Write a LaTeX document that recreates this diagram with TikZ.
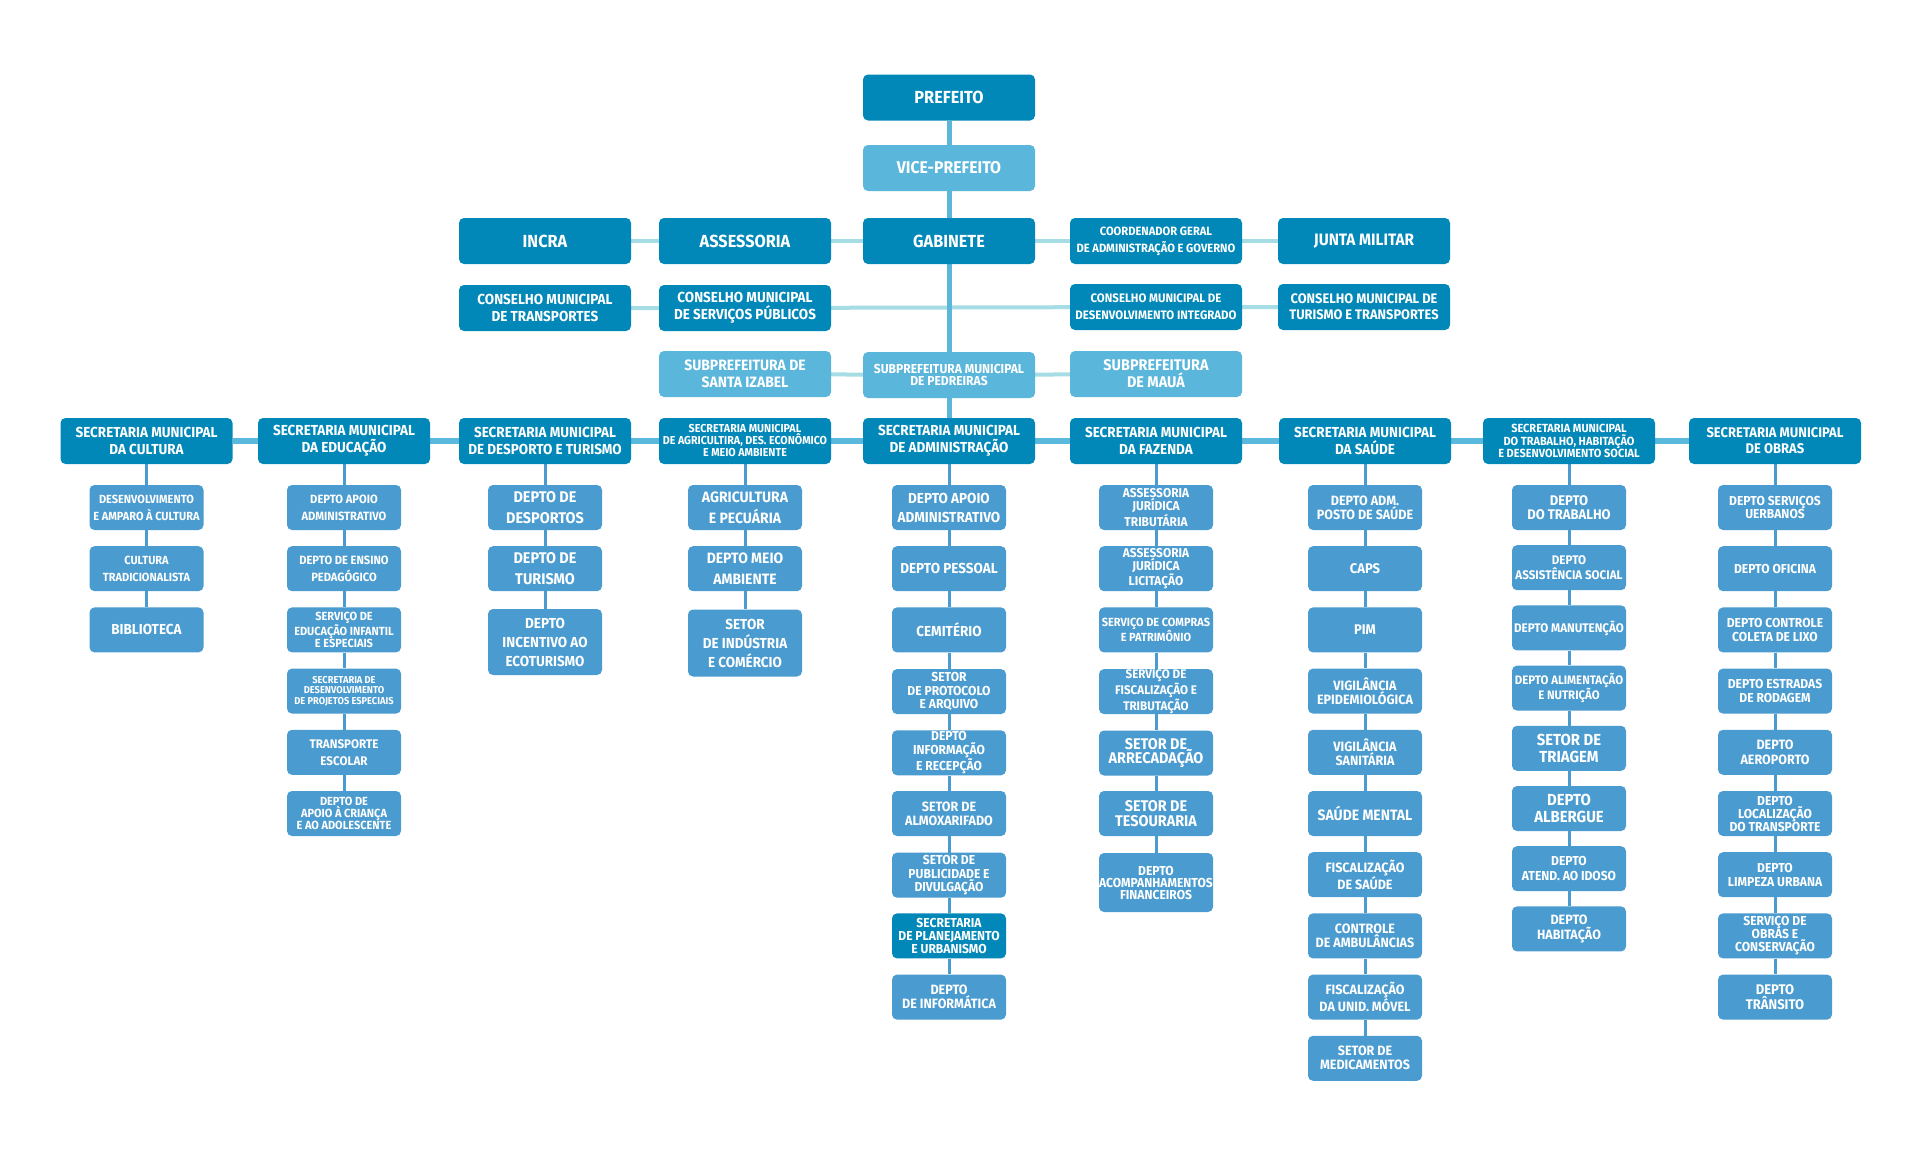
\documentclass[tikz,border=0pt]{standalone}
\usepackage{fontspec}
\setmainfont{Fira Sans}[FakeStretch=0.93]
\usetikzlibrary{backgrounds}
\definecolor{dark}{HTML}{0288B8}
\definecolor{lite}{HTML}{5BB6DB}
\definecolor{mid}{HTML}{4A9BD0}
\definecolor{pale}{HTML}{A6DCE3}
\definecolor{vline}{HTML}{5BB6D8}
\definecolor{secline}{HTML}{5BB9DD}
\begin{document}
\begin{tikzpicture}[x=1pt,y=-1pt,
  fz/.style 2 args={font=\bfseries\fontsize{#1}{#2}\selectfont},
  box/.style={rounded corners=5pt, text=white, align=center, inner sep=0pt, fz={14.5}{17}},
  topbox/.style={box, fill=dark, minimum width=172pt, minimum height=46pt},
  litebox/.style={box, fill=lite, minimum width=172pt, minimum height=46pt},
  secbox/.style={box, fill=dark, minimum width=172pt, minimum height=46pt},
  kid/.style={box, fill=mid, minimum width=114pt, minimum height=45pt},
  kiddark/.style={box, fill=dark, minimum width=114pt, minimum height=45pt},
  paleline/.style={draw=pale, line width=4pt},
  vertline/.style={draw=vline, line width=5pt},
  secrow/.style={draw=secline, line width=5.5pt},
  kidline/.style={draw=mid, line width=3pt}]
\useasboundingbox (0,0) rectangle (1920,1159);

% ---------- top ----------
\node[topbox, fz={17.5}{20}] (pref) at (949,97.5) {PREFEITO};
\node[litebox, fz={17}{20}] (vice) at (949,168) {VICE-PREFEITO};

\node[topbox, fz={17.5}{20}] (incra) at (545,241) {INCRA};
\node[topbox, fz={17.5}{20}] (asse) at (745,241) {ASSESSORIA};
\node[topbox, fz={17.5}{20}] (gab) at (949,241) {GABINETE};
\node[topbox, fz={12}{17}] (coord) at (1156,241) {COORDENADOR GERAL\\DE ADMINISTRAÇÃO E GOVERNO};
\node[topbox, fz={16.5}{20}] (junta) at (1364,241) {JUNTA MILITAR};

\node[topbox, fz={14.5}{17}] (cmt) at (545,308) {CONSELHO MUNICIPAL\\DE TRANSPORTES};
\node[topbox, fz={14.5}{17}] (cmsp) at (745,308) {CONSELHO MUNICIPAL\\DE SERVIÇOS PÚBLICOS};
\node[topbox, fz={12.3}{17}] (cmdi) at (1156,307) {CONSELHO MUNICIPAL DE\\DESENVOLVIMENTO INTEGRADO};
\node[topbox, fz={13.8}{16}] (cmtt) at (1364,307) {CONSELHO MUNICIPAL DE\\TURISMO E TRANSPORTES};

\node[litebox, fz={15}{17}] (izabel) at (745,374) {SUBPREFEITURA DE\\SANTA IZABEL};
\node[litebox, fz={13}{11.5}] (pedr) at (949,375) {SUBPREFEITURA MUNICIPAL\\DE PEDREIRAS};
\node[litebox, fz={15.5}{17}] (maua) at (1156,374) {SUBPREFEITURA\\DE MAUÁ};

% ---------- secretarias ----------
\node[secbox] (cu) at (146.5,441) {SECRETARIA MUNICIPAL\\DA CULTURA};
\node[secbox] (ed) at (344,441) {SECRETARIA MUNICIPAL\\DA EDUCAÇÃO};
\node[secbox] (de) at (545,441) {SECRETARIA MUNICIPAL\\DE DESPORTO E TURISMO};
\node[secbox, fz={11.5}{12}] (ag) at (745,441) {SECRETARIA MUNICIPAL\\DE AGRICULTIRA, DES. ECONÔMICO\\E MEIO AMBIENTE};
\node[secbox] (ad) at (949,441) {SECRETARIA MUNICIPAL\\DE ADMINISTRAÇÃO};
\node[secbox] (fa) at (1156,441) {SECRETARIA MUNICIPAL\\DA FAZENDA};
\node[secbox] (sa) at (1365,441) {SECRETARIA MUNICIPAL\\DA SAÚDE};
\node[secbox, fz={11.8}{12.3}] (tr) at (1569,441) {SECRETARIA MUNICIPAL\\DO TRABALHO, HABITAÇÃO\\E DESENVOLVIMENTO SOCIAL};
\node[secbox, fz={14}{16}] (ob) at (1775,441) {SECRETARIA MUNICIPAL\\DE OBRAS};

% ---------- cultura ----------
\node[kid, fz={11.8}{17}] (cu1) at (146.5,507.5) {DESENVOLVIMENTO\\E AMPARO À CULTURA};
\node[kid, fz={11.8}{17}] (cu2) at (146.5,568.7) {CULTURA\\TRADICIONALISTA};
\node[kid, fz={14.5}{17}] (cu3) at (146.5,629.9) {BIBLIOTECA};

% ---------- educacao ----------
\node[kid, fz={12}{17}] (ed1) at (344,507.5) {DEPTO APOIO\\ADMINISTRATIVO};
\node[kid, fz={12}{17}] (ed2) at (344,568.7) {DEPTO DE ENSINO\\PEDAGÓGICO};
\node[kid, fz={11.8}{12}] (ed3) at (344,629.9) {SERVIÇO DE\\EDUCAÇÃO INFANTIL\\E ESPECIAIS};
\node[kid, fz={10}{10.7}] (ed4) at (344,691.1) {SECRETARIA DE\\DESENVOLVIMENTO\\DE PROJETOS ESPECIAIS};
\node[kid, fz={12.5}{17}] (ed5) at (344,752.3) {TRANSPORTE\\ESCOLAR};
\node[kid, fz={11.8}{12}] (ed6) at (344,813.5) {DEPTO DE\\APOIO À CRIANÇA\\E AO ADOLESCENTE};

% ---------- desporto ----------
\node[kid, fz={15.5}{21}] (de1) at (545,507.5) {DEPTO DE\\DESPORTOS};
\node[kid, fz={15.5}{21}] (de2) at (545,568.7) {DEPTO DE\\TURISMO};
\node[kid, fz={14.5}{19}, minimum height=66pt] (de3) at (545,642) {DEPTO\\INCENTIVO AO\\ECOTURISMO};

% ---------- agricultura ----------
\node[kid, fz={15}{21}] (ag1) at (745,507.5) {AGRICULTURA\\E PECUÁRIA};
\node[kid, fz={15}{21}] (ag2) at (745,568.7) {DEPTO MEIO\\AMBIENTE};
\node[kid, fz={14.5}{19}, minimum height=67pt] (ag3) at (745,643) {SETOR\\DE INDÚSTRIA\\E COMÉRCIO};

% ---------- administracao ----------
\node[kid, fz={14.5}{19}] (ad1) at (949,507.5) {DEPTO APOIO\\ADMINISTRATIVO};
\node[kid, fz={14.5}{16}] (ad2) at (949,568.7) {DEPTO PESSOAL};
\node[kid, fz={14.5}{16}] (ad3) at (949,629.9) {CEMITÉRIO};
\node[kid, fz={13}{13.3}] (ad4) at (949,691.6) {SETOR\\DE PROTOCOLO\\E ARQUIVO};
\node[kid, fz={13}{13.3}] (ad5) at (949,752.8) {DEPTO\\INFORMAÇÃO\\E RECEPÇÃO};
\node[kid, fz={13.5}{14}] (ad6) at (949,813.5) {SETOR DE\\ALMOXARIFADO};
\node[kid, fz={13}{13.3}] (ad7) at (949,875.2) {SETOR DE\\PUBLICIDADE E\\DIVULGAÇÃO};
\node[kiddark, fz={13}{13.3}] (ad8) at (949,935.9) {SECRETARIA\\DE PLANEJAMENTO\\E URBANISMO};
\node[kid, fz={13.5}{14}] (ad9) at (949,997.1) {DEPTO\\DE INFORMÁTICA};

% ---------- fazenda ----------
\node[kid, fz={12.8}{13}] (fa1) at (1156,507.5) {ASSESSORIA\\JURÍDICA\\TRIBUTÁRIA};
\node[kid, fz={12.8}{13}] (fa2) at (1156,568.7) {ASSESSORIA\\JURÍDICA\\LICITAÇÃO};
\node[kid, fz={11.8}{11.7}] (fa3) at (1156,629.9) {SERVIÇO DE COMPRAS\\E PATRIMÔNIO};
\node[kid, fz={12.5}{13}] (fa4) at (1156,691.6) {SERVIÇO DE\\FISCALIZAÇÃO E\\TRIBUTAÇÃO};
\node[kid, fz={15.5}{14.5}] (fa5) at (1156,753) {SETOR DE\\ARRECADAÇÃO};
\node[kid, fz={15.5}{15}] (fa6) at (1156,813.5) {SETOR DE\\TESOURARIA};
\node[kid, fz={13}{12}, minimum height=59pt] (fa7) at (1156,882.5) {DEPTO\\ACOMPANHAMENTOS\\FINANCEIROS};

% ---------- saude ----------
\node[kid, fz={13.5}{14}] (sa1) at (1365,507.5) {DEPTO ADM.\\POSTO DE SAÚDE};
\node[kid, fz={14}{16}] (sa2) at (1365,568.7) {CAPS};
\node[kid, fz={14}{16}] (sa3) at (1365,629.9) {PIM};
\node[kid, fz={13.5}{13.5}] (sa4) at (1365,691.1) {VIGILÂNCIA\\EPIDEMIOLÓGICA};
\node[kid, fz={13.5}{13.5}] (sa5) at (1365,752.3) {VIGILÂNCIA\\SANITÁRIA};
\node[kid, fz={15}{16}] (sa6) at (1365,813.5) {SAÚDE MENTAL};
\node[kid, fz={13.5}{14}] (sa7) at (1365,874.7) {FISCALIZAÇÃO\\DE SAÚDE};
\node[kid, fz={13.5}{14}] (sa8) at (1365,935.9) {CONTROLE\\DE AMBULÂNCIAS};
\node[kid, fz={13.5}{14}] (sa9) at (1365,997.1) {FISCALIZAÇÃO\\DA UNID. MÓVEL};
\node[kid, fz={13.5}{14}] (sa10) at (1365,1058.3) {SETOR DE\\MEDICAMENTOS};

% ---------- trabalho ----------
\node[kid, fz={14}{14}] (tr1) at (1569,507.5) {DEPTO\\DO TRABALHO};
\node[kid, fz={12.5}{15}] (tr2) at (1569,567.7) {DEPTO\\ASSISTÊNCIA SOCIAL};
\node[kid, fz={12.5}{12}] (tr3) at (1569,627.9) {DEPTO MANUTENÇÃO};
\node[kid, fz={12.3}{12}] (tr4) at (1569,688.1) {DEPTO ALIMENTAÇÃO\\E NUTRIÇÃO};
\node[kid, fz={16}{17}] (tr5) at (1569,748.3) {SETOR DE\\TRIAGEM};
\node[kid, fz={16}{17}] (tr6) at (1569,808.5) {DEPTO\\ALBERGUE};
\node[kid, fz={13}{15.5}] (tr7) at (1569,868.7) {DEPTO\\ATEND. AO IDOSO};
\node[kid, fz={13.5}{15}] (tr8) at (1569,928.9) {DEPTO\\HABITAÇÃO};

% ---------- obras ----------
\node[kid, fz={13}{13.5}] (ob1) at (1775,507.5) {DEPTO SERVIÇOS\\UERBANOS};
\node[kid, fz={13}{14}] (ob2) at (1775,568.7) {DEPTO OFICINA};
\node[kid, fz={13}{13.5}] (ob3) at (1775,629.9) {DEPTO CONTROLE\\COLETA DE LIXO};
\node[kid, fz={13}{13.5}] (ob4) at (1775,691.1) {DEPTO ESTRADAS\\DE RODAGEM};
\node[kid, fz={13.5}{15}] (ob5) at (1775,752.3) {DEPTO\\AEROPORTO};
\node[kid, fz={13}{13}] (ob6) at (1775,813.5) {DEPTO\\LOCALIZAÇÃO\\DO TRANSPORTE};
\node[kid, fz={13}{14}] (ob7) at (1775,874.7) {DEPTO\\LIMPEZA URBANA};
\node[kid, fz={13}{13}] (ob8) at (1775,935.9) {SERVIÇO DE\\OBRAS E\\CONSERVAÇÃO};
\node[kid, fz={14}{15}] (ob9) at (1775,997.1) {DEPTO\\TRÂNSITO};

% ---------- connectors ----------
\begin{scope}[on background layer]
  \fill[white] (0,0) rectangle (1920,1159);
  \draw[paleline] (incra) -- (asse) -- (gab) -- (coord) -- (junta);
  \draw[paleline] (cmt) -- (cmsp) -- (cmdi) -- (cmtt);
  \draw[paleline] (izabel) -- (pedr) -- (maua);
  \draw[vertline] (pref) -- (vice);
  \draw[vertline] (vice) -- (gab);
  \draw[vertline] (gab) -- (pedr);
  \draw[vertline] (pedr) -- (ad);
  \draw[secrow] (cu) -- (ed) -- (de) -- (ag) -- (ad) -- (fa) -- (sa) -- (tr) -- (ob);
  \foreach \c/\n in {cu/3, ed/6, de/3, ag/3, ad/9, fa/7, sa/10, tr/8, ob/9} {
    \draw[kidline] (\c) -- (\c1);
    \foreach \i in {2,...,\n} {
      \pgfmathtruncatemacro\p{\i-1}
      \draw[kidline] (\c\p) -- (\c\i);
    }
  }
\end{scope}
\end{tikzpicture}
\end{document}
